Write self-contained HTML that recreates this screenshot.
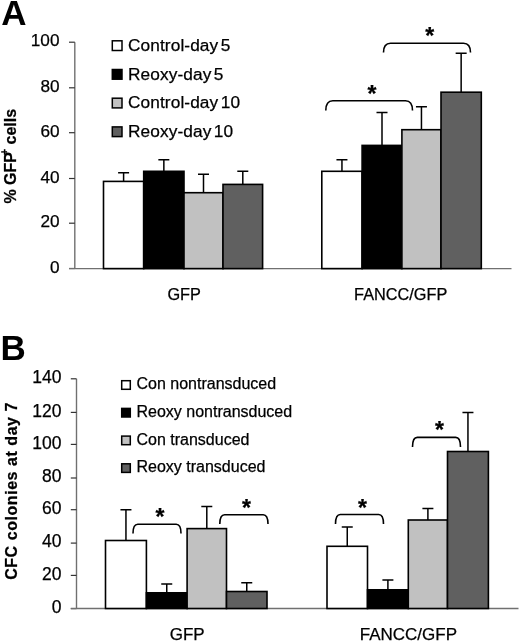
<!DOCTYPE html><html><head><meta charset="utf-8"><style>html,body{margin:0;padding:0;background:#fff;width:520px;height:643px;overflow:hidden}svg{display:block;will-change:transform}text{font-family:"Liberation Sans",sans-serif;fill:#000;stroke:#000;stroke-width:0.25px}.lg{font-size:17.25px;letter-spacing:0.1px;word-spacing:-2.4px}.lgb{font-size:16px}.cat{font-size:16.3px}.catb{font-size:17px}.yl{font-size:16px;font-weight:bold}.pl{font-weight:bold;stroke-width:0}.st{font-weight:bold;text-anchor:middle}</style></head><body>
<svg width="520" height="643" viewBox="0 0 520 643">
<rect width="520" height="643" fill="#fff"/>
<path d="M74.80 42.20V268.60" stroke="#707070" stroke-width="1.4" fill="none"/>
<path d="M69.00 268.50H74.80" stroke="#333" stroke-width="1.2" fill="none"/>
<text x="59.50" y="272.50" class="tl" text-anchor="end" font-size="17.2">0</text>
<path d="M69.00 223.20H74.80" stroke="#333" stroke-width="1.2" fill="none"/>
<text x="59.50" y="227.20" class="tl" text-anchor="end" font-size="17.2">20</text>
<path d="M69.00 178.50H74.80" stroke="#333" stroke-width="1.2" fill="none"/>
<text x="59.50" y="182.50" class="tl" text-anchor="end" font-size="17.2">40</text>
<path d="M69.00 132.70H74.80" stroke="#333" stroke-width="1.2" fill="none"/>
<text x="59.50" y="136.70" class="tl" text-anchor="end" font-size="17.2">60</text>
<path d="M69.00 87.80H74.80" stroke="#333" stroke-width="1.2" fill="none"/>
<text x="59.50" y="91.80" class="tl" text-anchor="end" font-size="17.2">80</text>
<path d="M69.00 42.20H74.80" stroke="#333" stroke-width="1.2" fill="none"/>
<text x="59.50" y="46.20" class="tl" text-anchor="end" font-size="17.2">100</text>
<path d="M69.00 268.60H511.50" stroke="#707070" stroke-width="1.4" fill="none"/>
<path d="M123.60 181.40V172.70M118.10 172.70H129.10" stroke="#000" stroke-width="1.5" fill="none"/>
<path d="M163.85 171.30V159.80M158.35 159.80H169.35" stroke="#000" stroke-width="1.5" fill="none"/>
<path d="M203.50 192.70V174.20M198.00 174.20H209.00" stroke="#000" stroke-width="1.5" fill="none"/>
<path d="M242.80 184.40V171.30M237.30 171.30H248.30" stroke="#000" stroke-width="1.5" fill="none"/>
<rect x="103.50" y="181.40" width="40.20" height="87.20" fill="#fff" stroke="#000" stroke-width="1.6"/>
<rect x="143.70" y="171.30" width="40.30" height="97.30" fill="#000" stroke="#000" stroke-width="1.6"/>
<rect x="184.00" y="192.70" width="39.00" height="75.90" fill="#c1c1c1" stroke="#000" stroke-width="1.6"/>
<rect x="223.00" y="184.40" width="39.60" height="84.20" fill="#606060" stroke="#000" stroke-width="1.6"/>
<path d="M341.95 171.30V159.80M336.45 159.80H347.45" stroke="#000" stroke-width="1.5" fill="none"/>
<path d="M382.00 145.40V112.50M376.50 112.50H387.50" stroke="#000" stroke-width="1.5" fill="none"/>
<path d="M421.45 129.70V106.70M415.95 106.70H426.95" stroke="#000" stroke-width="1.5" fill="none"/>
<path d="M461.15 92.20V53.30M455.65 53.30H466.65" stroke="#000" stroke-width="1.5" fill="none"/>
<rect x="321.80" y="171.30" width="40.30" height="97.30" fill="#fff" stroke="#000" stroke-width="1.6"/>
<rect x="362.10" y="145.40" width="39.80" height="123.20" fill="#000" stroke="#000" stroke-width="1.6"/>
<rect x="401.90" y="129.70" width="39.10" height="138.90" fill="#c1c1c1" stroke="#000" stroke-width="1.6"/>
<rect x="441.00" y="92.20" width="40.30" height="176.40" fill="#606060" stroke="#000" stroke-width="1.6"/>
<path d="M325.80 110.50Q325.80 100.70 332.80 100.70H405.50Q412.50 100.70 412.50 110.50" stroke="#000" stroke-width="1.6" fill="none"/>
<path d="M383.50 52.50Q383.50 43.20 390.50 43.20H463.50Q470.50 43.20 470.50 52.50" stroke="#000" stroke-width="1.6" fill="none"/>
<text x="372.10" y="101.80" class="st" font-size="23">*</text>
<text x="429.70" y="44.20" class="st" font-size="23">*</text>
<text x="1.3" y="25.3" class="pl" font-size="35">A</text>
<rect x="112.3" y="40.80" width="9.7" height="9.7" fill="#fff" stroke="#000" stroke-width="1.5"/>
<text x="128" y="51.00" class="lg">Control-day 5</text>
<rect x="112.3" y="69.50" width="9.7" height="9.7" fill="#000" stroke="#000" stroke-width="1.5"/>
<text x="128" y="79.70" class="lg">Reoxy-day 5</text>
<rect x="112.3" y="98.20" width="9.7" height="9.7" fill="#c1c1c1" stroke="#000" stroke-width="1.5"/>
<text x="128" y="108.40" class="lg">Control-day 10</text>
<rect x="112.3" y="126.90" width="9.7" height="9.7" fill="#606060" stroke="#000" stroke-width="1.5"/>
<text x="128" y="137.10" class="lg">Reoxy-day 10</text>
<text x="184.2" y="300.2" class="cat" text-anchor="middle">GFP</text>
<text x="400.7" y="300.2" class="cat" text-anchor="middle">FANCC/GFP</text>
<text transform="translate(16.2 156.2) rotate(-90)" class="yl" text-anchor="middle">% GFP<tspan font-size="10.5" dx="-3" dy="-8.5">+</tspan><tspan dy="8.5"> cells</tspan></text>
<path d="M76.50 378.80V608.50" stroke="#707070" stroke-width="1.4" fill="none"/>
<path d="M70.80 608.60H76.50" stroke="#333" stroke-width="1.2" fill="none"/>
<text x="61.50" y="612.80" class="tl" text-anchor="end" font-size="17.5">0</text>
<path d="M70.80 575.40H76.50" stroke="#333" stroke-width="1.2" fill="none"/>
<text x="61.50" y="579.60" class="tl" text-anchor="end" font-size="17.5">20</text>
<path d="M70.80 543.10H76.50" stroke="#333" stroke-width="1.2" fill="none"/>
<text x="61.50" y="547.30" class="tl" text-anchor="end" font-size="17.5">40</text>
<path d="M70.80 509.70H76.50" stroke="#333" stroke-width="1.2" fill="none"/>
<text x="61.50" y="513.90" class="tl" text-anchor="end" font-size="17.5">60</text>
<path d="M70.80 478.00H76.50" stroke="#333" stroke-width="1.2" fill="none"/>
<text x="61.50" y="482.20" class="tl" text-anchor="end" font-size="17.5">80</text>
<path d="M70.80 444.40H76.50" stroke="#333" stroke-width="1.2" fill="none"/>
<text x="61.50" y="448.60" class="tl" text-anchor="end" font-size="17.5">100</text>
<path d="M70.80 412.40H76.50" stroke="#333" stroke-width="1.2" fill="none"/>
<text x="61.50" y="416.60" class="tl" text-anchor="end" font-size="17.5">120</text>
<path d="M70.80 378.80H76.50" stroke="#333" stroke-width="1.2" fill="none"/>
<text x="61.50" y="383.00" class="tl" text-anchor="end" font-size="17.5">140</text>
<path d="M70.80 608.50H518.50" stroke="#707070" stroke-width="1.4" fill="none"/>
<path d="M125.95 540.50V509.80M120.45 509.80H131.45" stroke="#000" stroke-width="1.5" fill="none"/>
<path d="M166.75 592.80V584.00M161.25 584.00H172.25" stroke="#000" stroke-width="1.5" fill="none"/>
<path d="M206.80 528.60V506.50M201.30 506.50H212.30" stroke="#000" stroke-width="1.5" fill="none"/>
<path d="M246.75 591.50V582.70M241.25 582.70H252.25" stroke="#000" stroke-width="1.5" fill="none"/>
<rect x="105.50" y="540.50" width="40.90" height="68.00" fill="#fff" stroke="#000" stroke-width="1.6"/>
<rect x="146.40" y="592.80" width="40.70" height="15.70" fill="#000" stroke="#000" stroke-width="1.6"/>
<rect x="187.10" y="528.60" width="39.40" height="79.90" fill="#c1c1c1" stroke="#000" stroke-width="1.6"/>
<rect x="226.50" y="591.50" width="40.50" height="17.00" fill="#606060" stroke="#000" stroke-width="1.6"/>
<path d="M347.25 546.30V527.00M341.75 527.00H352.75" stroke="#000" stroke-width="1.5" fill="none"/>
<path d="M387.90 589.80V580.00M382.40 580.00H393.40" stroke="#000" stroke-width="1.5" fill="none"/>
<path d="M427.90 520.00V508.50M422.40 508.50H433.40" stroke="#000" stroke-width="1.5" fill="none"/>
<path d="M467.95 451.50V412.50M462.45 412.50H473.45" stroke="#000" stroke-width="1.5" fill="none"/>
<rect x="327.00" y="546.30" width="40.50" height="62.20" fill="#fff" stroke="#000" stroke-width="1.6"/>
<rect x="367.50" y="589.80" width="40.80" height="18.70" fill="#000" stroke="#000" stroke-width="1.6"/>
<rect x="408.30" y="520.00" width="39.20" height="88.50" fill="#c1c1c1" stroke="#000" stroke-width="1.6"/>
<rect x="447.50" y="451.50" width="40.90" height="157.00" fill="#606060" stroke="#000" stroke-width="1.6"/>
<path d="M133.00 533.50Q133.00 524.30 137.80 524.30H176.20Q181.00 524.30 181.00 533.50" stroke="#000" stroke-width="1.6" fill="none"/>
<path d="M219.80 524.00Q219.80 514.70 224.60 514.70H263.20Q268.00 514.70 268.00 524.00" stroke="#000" stroke-width="1.6" fill="none"/>
<path d="M335.50 524.00Q335.50 514.50 340.30 514.50H378.70Q383.50 514.50 383.50 524.00" stroke="#000" stroke-width="1.6" fill="none"/>
<path d="M412.50 447.00Q412.50 437.40 417.30 437.40H455.70Q460.50 437.40 460.50 447.00" stroke="#000" stroke-width="1.6" fill="none"/>
<text x="160.00" y="525.40" class="st" font-size="23">*</text>
<text x="246.50" y="515.70" class="st" font-size="23">*</text>
<text x="362.50" y="515.70" class="st" font-size="23">*</text>
<text x="439.50" y="438.40" class="st" font-size="23">*</text>
<text x="0.6" y="360.2" class="pl" font-size="35">B</text>
<rect x="121.7" y="380.70" width="8.6" height="8.6" fill="#fff" stroke="#000" stroke-width="1.5"/>
<text x="136.5" y="389.30" class="lgb">Con nontransduced</text>
<rect x="121.7" y="408.40" width="8.6" height="8.6" fill="#000" stroke="#000" stroke-width="1.5"/>
<text x="136.5" y="417.00" class="lgb">Reoxy nontransduced</text>
<rect x="121.7" y="436.10" width="8.6" height="8.6" fill="#c1c1c1" stroke="#000" stroke-width="1.5"/>
<text x="136.5" y="444.70" class="lgb">Con transduced</text>
<rect x="121.7" y="463.80" width="8.6" height="8.6" fill="#606060" stroke="#000" stroke-width="1.5"/>
<text x="136.5" y="472.40" class="lgb">Reoxy transduced</text>
<text x="187.2" y="640" class="catb" text-anchor="middle">GFP</text>
<text x="408.4" y="640" class="catb" text-anchor="middle">FANCC/GFP</text>
<text transform="translate(16.6 490.9) rotate(-90)" class="yl" text-anchor="middle" style="font-size:16px;letter-spacing:0.55px">CFC colonies at day 7</text>
</svg></body></html>
